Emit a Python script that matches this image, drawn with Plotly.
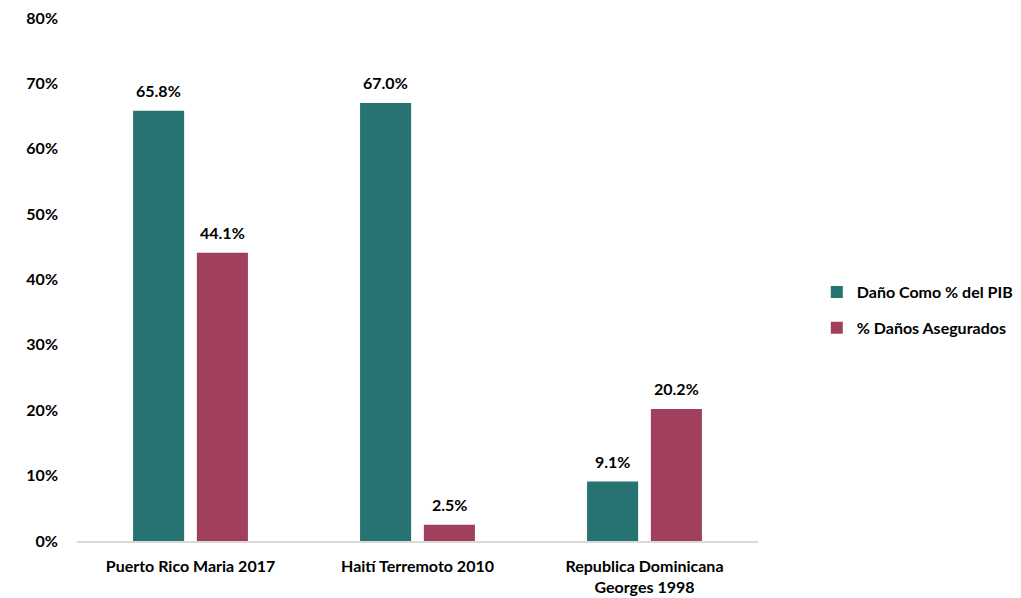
import plotly.graph_objects as go

categories = ["Puerto Rico Maria 2017", "Haití Terremoto 2010", "Republica Dominicana<br>Georges 1998"]
dano_pib = [65.8, 67.0, 9.1]
danos_asegurados = [44.1, 2.5, 20.2]
series_names = ["Daño Como % del PIB", "% Daños Asegurados"]
tick_vals = [0, 10, 20, 30, 40, 50, 60, 70, 80]
tick_text = [f"{v}%" for v in tick_vals]

TEAL = "#267372"
MAROON = "#A0405C"
FONT = "Lato"
FS = 16

fig = go.Figure()
x_idx = list(range(len(categories)))
for name, vals, color, off, grp in [
    (series_names[0], dano_pib, TEAL, -0.253, "a"),
    (series_names[1], danos_asegurados, MAROON, 0.028, "b"),
]:
    fig.add_trace(go.Bar(
        x=x_idx, y=vals, name=name, marker_color=color,
        width=0.225, offset=off, legendgroup=grp,
        marker_line_width=0,
    ))
    for xi, v in zip(x_idx, vals):
        fig.add_annotation(
            x=xi + off + 0.1125, y=v, text=f"<b>{v:.1f}%</b>",
            showarrow=False, yanchor="bottom", yshift=9,
            font=dict(family=FONT, size=FS, color="#000000"),
        )

fig.update_layout(
    width=1021, height=598,
    margin=dict(l=77, r=263, t=18, b=57),
    plot_bgcolor="white", paper_bgcolor="white",
    font=dict(family=FONT, size=FS, color="#000000"),
    showlegend=True,
    legend=dict(
        xref="container", yref="container", x=0.8, y=0.54,
        xanchor="left", yanchor="top", itemwidth=30,
        font=dict(family=FONT, size=FS, color="#000000", weight="bold"),
        traceorder="grouped", tracegroupgap=12,
        bgcolor="rgba(0,0,0,0)",
    ),
)
fig.update_xaxes(
    range=[-0.5, 2.5], tickvals=x_idx,
    ticktext=[f"<b>{c}</b>" for c in categories],
    showline=True, linecolor="#D9D9D9", linewidth=1.5,
    showgrid=False, ticks="", tickfont=dict(family=FONT, size=FS),
    ticklabelstandoff=10, automargin=False,
)
fig.update_yaxes(
    range=[0, 80], tickvals=tick_vals,
    ticktext=[f"<b>{t}</b>" for t in tick_text],
    showgrid=False, zeroline=False, showline=False, ticks="",
    ticklabelstandoff=18, tickfont=dict(family=FONT, size=FS),
    automargin=False,
)

fig.write_html("out.html")
